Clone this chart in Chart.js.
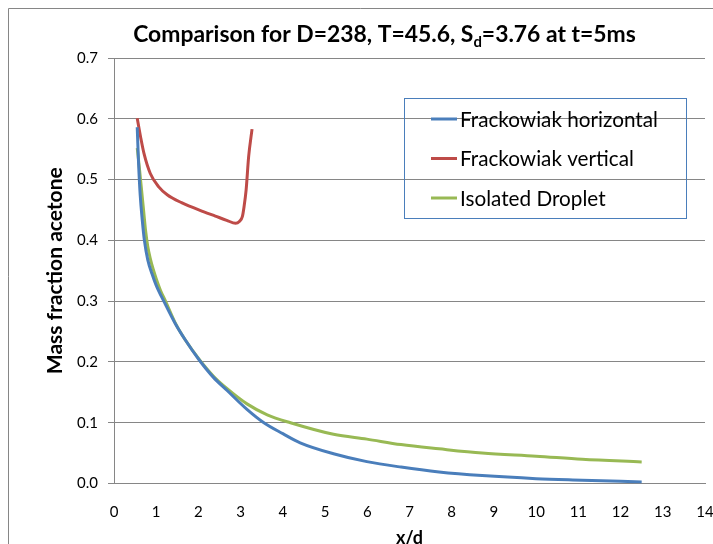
<!DOCTYPE html>
<html>
<head>
<meta charset="utf-8">
<script src="https://cdn.jsdelivr.net/npm/chart.js@4.4.0/dist/chart.umd.min.js"></script>
<style>
  html, body { margin: 0; padding: 0; background: #fff; }
  #wrap { width: 713px; height: 544px; position: relative; }
</style>
</head>
<body>
<div id="wrap"><canvas id="chart" width="713" height="544"></canvas></div>
<script>
// series labels
const seriesNames = ["Frackowiak horizontal", "Frackowiak vertical", "Isolated Droplet"];
const seriesColors = ["#4a7ebb", "#be4b48", "#98b954"];

// x/d values and mass fraction
const horizX = [0.55, 0.58, 0.62, 0.67, 0.72, 0.80, 0.90, 1.0, 1.18, 1.46, 1.69, 2.01, 2.35, 2.68, 3.15, 3.55, 4.0, 4.41, 5.2, 5.99, 6.8, 7.7, 8.72, 10, 11.09, 12.5];
const horizY = [0.586, 0.53, 0.475, 0.433, 0.40, 0.368, 0.345, 0.326, 0.30, 0.262, 0.236, 0.204, 0.175, 0.153, 0.122, 0.100, 0.082, 0.067, 0.049, 0.036, 0.027, 0.019, 0.013, 0.008, 0.0055, 0.0025];

const vertX = [0.55, 0.63, 0.71, 0.86, 1.06, 1.26, 1.6, 2.13, 2.4, 2.67, 2.88, 2.97, 3.04, 3.08, 3.13, 3.19, 3.27];
const vertY = [0.601, 0.570, 0.543, 0.51, 0.488, 0.475, 0.462, 0.447, 0.44, 0.433, 0.428, 0.431, 0.439, 0.455, 0.483, 0.538, 0.583];

const dropX = [0.55, 0.60, 0.65, 0.70, 0.75, 0.80, 0.86, 0.93, 1.0, 1.1, 1.22, 1.46, 1.69, 2.01, 2.35, 2.68, 3.15, 3.63, 4.18, 5.2, 5.99, 6.8, 7.7, 8.72, 10, 11.09, 12.5];
const dropY = [0.552, 0.52, 0.485, 0.45, 0.415, 0.39, 0.37, 0.352, 0.337, 0.318, 0.30, 0.263, 0.236, 0.205, 0.177, 0.156, 0.131, 0.113, 0.100, 0.081, 0.073, 0.064, 0.057, 0.050, 0.045, 0.040, 0.0355];

const xTicks = [0, 1, 2, 3, 4, 5, 6, 7, 8, 9, 10, 11, 12, 13, 14];
const yTicks = [0, 0.1, 0.2, 0.3, 0.4, 0.5, 0.6, 0.7];

const FONT = "Lato, 'Open Sans', 'Liberation Sans', sans-serif";
const GRID = "#868686";

function toPoints(xs, ys) {
  return xs.map((x, i) => ({ x: x, y: ys[i] }));
}

function fitFont(ctx, text, weight, targetWidth) {
  ctx.font = weight + " 20px " + FONT;
  const w = ctx.measureText(text).width;
  return 20 * targetWidth / w;
}

// outer frame, title with subscript, boxed legend
const decorPlugin = {
  id: "decor",
  afterDraw(chart) {
    const ctx = chart.ctx;
    ctx.save();

    ctx.strokeStyle = GRID;
    ctx.lineWidth = 1;
    ctx.beginPath();
    ctx.moveTo(8.5, 544);
    ctx.lineTo(8.5, 8.5);
    ctx.lineTo(713, 8.5);
    ctx.stroke();

    // title
    const p1 = "Comparison for D=238, T=45.6, S";
    const sub = "d";
    const p2 = "=3.76 at t=5ms";
    ctx.font = "bold 20px " + FONT;
    const raw = ctx.measureText(p1 + p2).width + ctx.measureText(sub).width * 0.65;
    const size = 20 * 503 / raw;
    const subSize = size * 0.65;
    ctx.font = "bold " + size + "px " + FONT;
    const w1 = ctx.measureText(p1).width;
    const w2 = ctx.measureText(p2).width;
    ctx.font = "bold " + subSize + "px " + FONT;
    const ws = ctx.measureText(sub).width;
    let x = 384.5 - (w1 + ws + w2) / 2;
    const y = 35;
    ctx.fillStyle = "#000";
    ctx.textBaseline = "middle";
    ctx.textAlign = "left";
    ctx.font = "bold " + size + "px " + FONT;
    ctx.fillText(p1, x, y);
    x += w1;
    ctx.font = "bold " + subSize + "px " + FONT;
    ctx.fillText(sub, x, y + size * 0.3);
    x += ws;
    ctx.font = "bold " + size + "px " + FONT;
    ctx.fillText(p2, x, y);

    // legend
    ctx.strokeStyle = "#4a7ebb";
    ctx.lineWidth = 1;
    ctx.strokeRect(404.5, 98.5, 282, 120);
    const legSize = fitFont(ctx, seriesNames[0], "normal", 198);
    ctx.font = legSize + "px " + FONT;
    chart.data.datasets.forEach((ds, i) => {
      const ly = 119 + i * 39.5;
      ctx.strokeStyle = ds.borderColor;
      ctx.lineWidth = 3;
      ctx.beginPath();
      ctx.moveTo(431, ly);
      ctx.lineTo(457, ly);
      ctx.stroke();
      ctx.fillStyle = "#000";
      ctx.fillText(ds.label, 460, ly + 1);
    });

    ctx.restore();
  },
};

const ctx = document.getElementById("chart").getContext("2d");

new Chart(ctx, {
  type: "scatter",
  data: {
    datasets: [
      { label: seriesNames[0], data: toPoints(horizX, horizY), borderColor: seriesColors[0] },
      { label: seriesNames[1], data: toPoints(vertX, vertY), borderColor: seriesColors[1] },
      { label: seriesNames[2], data: toPoints(dropX, dropY), borderColor: seriesColors[2] },
    ].map((ds) => ({
      ...ds,
      showLine: true,
      pointRadius: 0,
      borderWidth: 3,
      cubicInterpolationMode: "monotone",
      backgroundColor: ds.borderColor,
    })),
  },
  options: {
    responsive: false,
    animation: false,
    layout: { padding: { top: 58, right: 8, bottom: 0, left: 0 } },
    plugins: {
      legend: { display: false },
      title: { display: false },
      tooltip: { enabled: false },
    },
    scales: {
      x: {
        type: "linear",
        min: 0,
        max: 14,
        afterBuildTicks: (scale) => {
          scale.ticks = xTicks.map((v) => ({ value: v }));
        },
        afterFit: (scale) => {
          scale.height = 60.5;
          scale.paddingLeft = 0;
          scale.paddingRight = 0;
        },
        grid: { display: false, drawTicks: false, tickLength: 0 },
        border: { display: true, color: GRID, width: 1 },
        ticks: {
          padding: 20,
          color: "#000",
          font: { family: FONT, size: 15 },
          maxRotation: 0,
        },
        title: {
          display: true,
          text: "x/d",
          color: "#000",
          font: { family: FONT, size: 18, weight: "bold", lineHeight: 1 },
          padding: { top: 0, bottom: -3 },
        },
      },
      y: {
        type: "linear",
        min: 0,
        max: 0.7,
        afterBuildTicks: (scale) => {
          scale.ticks = yTicks.map((v) => ({ value: v }));
        },
        afterFit: (scale) => {
          scale.width = 114;
          scale.paddingTop = 0;
          scale.paddingBottom = 0;
        },
        grid: { color: GRID, lineWidth: 1, tickLength: 6 },
        border: { display: true, color: GRID, width: 1 },
        ticks: {
          padding: 10,
          color: "#000",
          font: { family: FONT, size: 15 },
          callback: (v) => Number(v).toFixed(1),
        },
        title: {
          display: true,
          text: "Mass fraction acetone",
          color: "#000",
          font: { family: FONT, size: 21, weight: "bold", lineHeight: 1 },
          padding: { top: 45, bottom: 0 },
        },
      },
    },
  },
  plugins: [decorPlugin],
});
</script>
</body>
</html>
